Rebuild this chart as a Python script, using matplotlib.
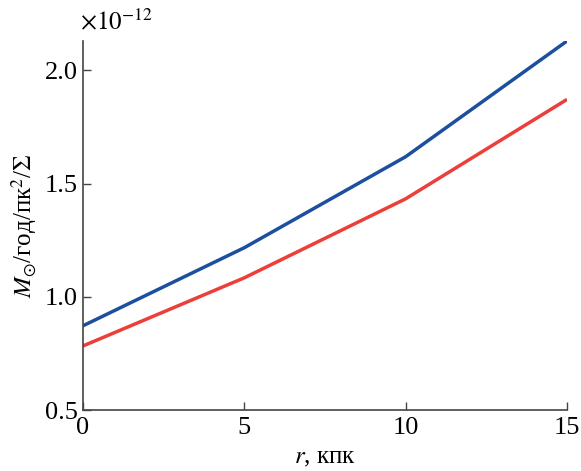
import matplotlib
matplotlib.use("Agg")
import matplotlib.pyplot as plt

r = [0, 5, 10, 15]
blue = [0.872, 1.217, 1.619, 2.13]
red = [0.783, 1.084, 1.433, 1.872]
xticks = [0, 5, 10, 15]
yticks = [0.5, 1.0, 1.5, 2.0]

plt.rcParams['font.family'] = ['Liberation Serif', 'DejaVu Serif']
plt.rcParams['mathtext.fontset'] = 'stix'

fig = plt.figure(figsize=(5.81, 4.71), dpi=100)
ax = fig.add_axes([0.1429, 0.1295, 0.976 - 0.1429, 0.913 - 0.1295])
ax.plot(r, blue, color='#1d4f9f', lw=2.5, solid_capstyle='butt')
ax.plot(r, red, color='#ec3f3a', lw=2.5, solid_capstyle='butt')
ax.set_xlim(0, 15)
ax.set_ylim(0.5, 2.13)
ax.set_xticks(xticks)
ax.set_yticks(yticks)
ax.set_xticklabels([str(v) for v in xticks])
ax.set_yticklabels([f"{v:.1f}" for v in yticks])
for s in ['top', 'right']:
    ax.spines[s].set_visible(False)
for s in ['left', 'bottom']:
    ax.spines[s].set_color('#444444')
    ax.spines[s].set_linewidth(1.2)
ax.tick_params(direction='in', length=6, width=1.0, color='#444444', labelsize=19)
ax.tick_params(axis='x', pad=5)
ax.tick_params(axis='y', pad=4)
ax.set_xlabel(r'$r$, кпк', fontsize=18, labelpad=6)
ax.set_ylabel(r'$M_{\odot}$/год/пк$^2$/$\Sigma$', fontsize=18, labelpad=4)
fig.text(0.137, 0.955, r'$\times10^{-12}$', fontsize=18, ha='left', va='center')
fig.savefig('out.png', dpi=100)
